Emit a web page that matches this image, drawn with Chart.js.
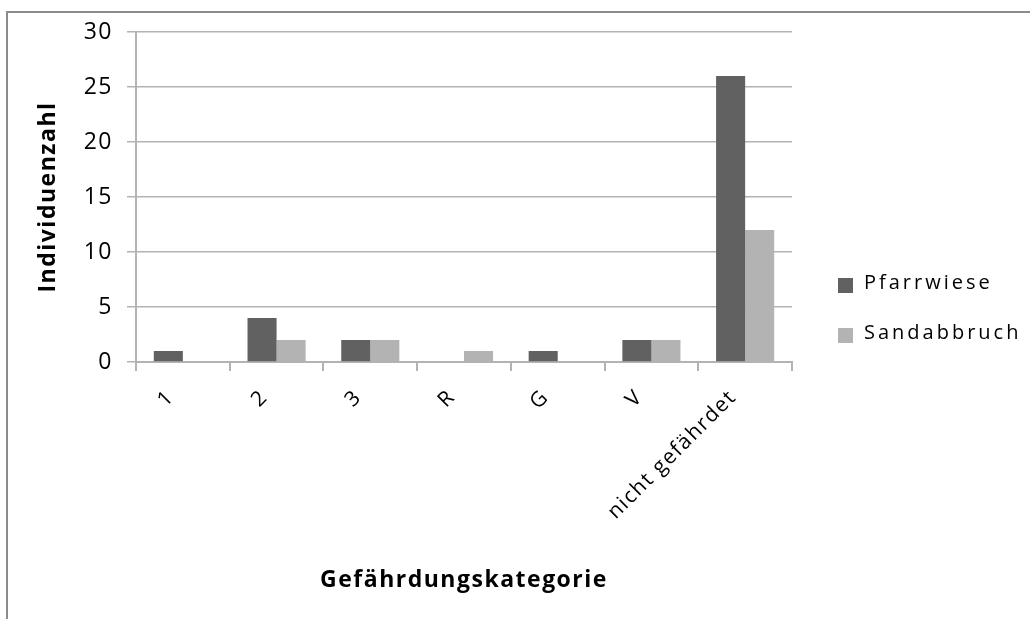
<!DOCTYPE html>
<html>
<head>
<meta charset="utf-8">
<script src="https://cdn.jsdelivr.net/npm/chart.js@4.4.1/dist/chart.umd.min.js"></script>
<style>
  body { margin: 0; background: #fff; }
  #frame { position: absolute; left: 6px; top: 11px; width: 1040px; height: 620px;
           border-left: 2px solid #8c8c8c; border-top: 2px solid #8c8c8c; }
  #wrap { position: absolute; left: 0; top: 0; width: 1030px; height: 619px; }
  #legend { position: absolute; left: 838px; top: 268px; font-family: "Open Sans", sans-serif;
            font-size: 20px; letter-spacing: 3px; color: #000; white-space: nowrap; }
  #legend div { height: 50px; display: flex; align-items: flex-start; }
  #legend span.box { display: inline-block; width: 15px; height: 15px; margin: 10px 11px 0 0; }
</style>
</head>
<body>
<div id="frame"></div>
<div id="wrap"><canvas id="chart" width="1030" height="619"></canvas></div>
<div id="legend"></div>
<script>
const categories = ["1", "2", "3", "R", "G", "V", "nicht gefährdet"];
const pfarrwiese = [1, 4, 2, 0, 1, 2, 26];
const sandabbruch = [0, 2, 2, 1, 0, 2, 12];
const seriesNames = ["Pfarrwiese", "Sandabbruch"];
const seriesColors = ["#616161", "#b3b3b3"];

const font = "'Open Sans', sans-serif";

// the original text is set quite loosely
const spacing = {
  id: "spacing",
  beforeUpdate: (c) => { c.ctx.letterSpacing = "1.5px"; },
  beforeDraw: (c) => { c.ctx.letterSpacing = "1.5px"; },
};

const ctx = document.getElementById("chart").getContext("2d");

const chart = new Chart(ctx, {
  type: "bar",
  data: {
    labels: categories,
    datasets: [
      { label: seriesNames[0], data: pfarrwiese, backgroundColor: seriesColors[0] },
      { label: seriesNames[1], data: sandabbruch, backgroundColor: seriesColors[1] },
    ],
  },
  plugins: [spacing],
  options: {
    responsive: false,
    animation: false,
    layout: { padding: { left: 0, right: 238, top: 32, bottom: 0 } },
    datasets: { bar: { barPercentage: 1, categoryPercentage: 0.62 } },
    plugins: { legend: { display: false }, tooltip: { enabled: false } },
    scales: {
      x: {
        afterFit: (scale) => { scale.height = 257; },
        border: { color: "#b3b3b3", width: 2 },
        grid: { offset: true, drawOnChartArea: false, tickLength: 9, color: "#b3b3b3", lineWidth: 2 },
        ticks: {
          maxRotation: 45, minRotation: 45, padding: 14, labelOffset: -12,
          color: "#000", font: { family: font, size: 21 },
        },
        title: {
          display: true,
          text: "Gefährdungskategorie",
          color: "#000",
          font: { family: font, size: 23, weight: "bold" },
          padding: { top: 0, bottom: 25 },
        },
      },
      y: {
        min: 0,
        max: 30,
        afterFit: (scale) => { scale.width = 136; },
        border: { color: "#b3b3b3", width: 2 },
        grid: { color: "#b3b3b3", lineWidth: 1.5, tickLength: 9 },
        ticks: { stepSize: 5, padding: 14, color: "#000", font: { family: font, size: 23 } },
        title: {
          display: true,
          text: "Individuenzahl",
          color: "#000",
          font: { family: font, size: 23, weight: "bold" },
          padding: { top: 35, bottom: 0 },
        },
      },
    },
  },
});

const legend = document.getElementById("legend");
chart.data.datasets.forEach((ds) => {
  const item = document.createElement("div");
  const box = document.createElement("span");
  box.className = "box";
  box.style.background = ds.backgroundColor;
  item.appendChild(box);
  item.appendChild(document.createTextNode(ds.label));
  legend.appendChild(item);
});
</script>
</body>
</html>
